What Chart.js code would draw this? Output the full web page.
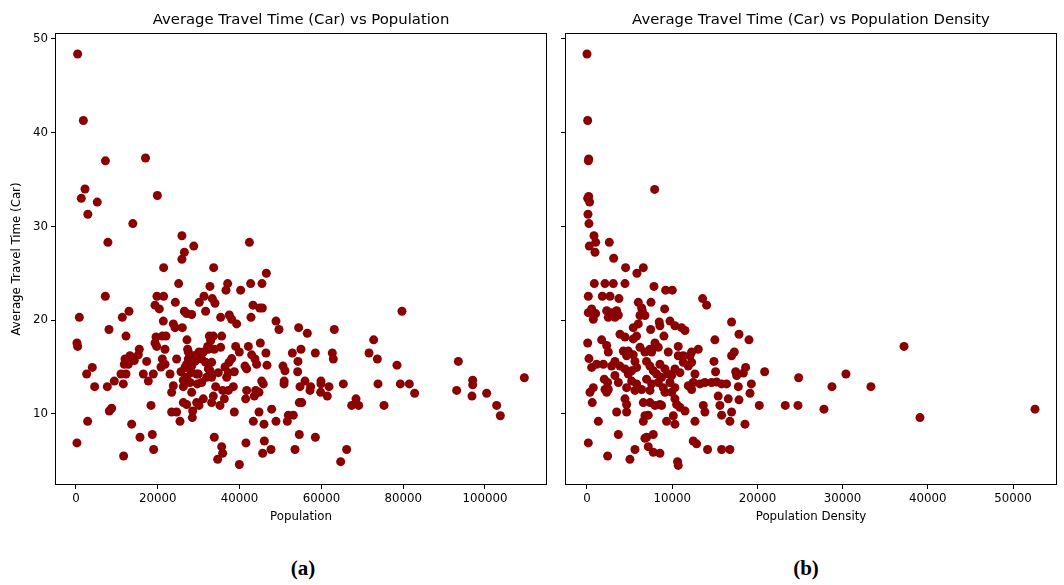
<!DOCTYPE html>
<html>
<head>
<meta charset="utf-8">
<script src="https://cdn.jsdelivr.net/npm/chart.js@4.4.1/dist/chart.umd.min.js"></script>
<style>
  body { margin: 0; background: #fff; width: 1064px; height: 585px; position: relative; overflow: hidden; }
  #popChart { position: absolute; left: 0; top: 0; }
  #densChart { position: absolute; left: 547px; top: 0; }
  .cap { position: absolute; top: 556px; line-height: 26px; font: bold 21px "Liberation Serif", serif; color: #000; transform: translateX(-50%); }
</style>
</head>
<body>
<canvas id="popChart" width="555" height="530"></canvas>
<canvas id="densChart" width="517" height="530"></canvas>
<div class="cap" style="left:303px">(a)</div>
<div class="cap" style="left:806px">(b)</div>

<script>
// =========================
// DATA
// =========================
const popX = [
  400, 1800, 7200, 17000, 2200, 1300, 5200, 2900, 19900, 13900, 7800, 25900, 42400, 28800, 26500, 25900,
  21430, 33660, 25100, 32760, 37080, 36670, 42700, 45480, 46540, 40260, 7170, 19800, 21430, 19320, 20370,
  24290, 31300, 30150, 33330, 33980, 43280, 44910, 45560, 31700, 26490, 27060, 28280, 12960, 11330, 820,
  35370, 37490, 38060, 39280, 42790, 48900, 49630, 54440, 21350, 23800, 24210, 26000, 8070, 12230, 240,
  410, 19560, 21110, 22010, 19320, 19730, 27140, 32600, 33580, 35620, 32920, 32190, 15480, 15240, 21760,
  27300, 30070, 31130, 29500, 32360, 33820, 35370, 39040, 39940, 42140, 45070, 46450, 52900, 55010,
  11980, 13200, 14260, 12800, 11820, 17280, 21110, 21760, 20780, 24610, 27470, 27060, 28280, 29670, 29100,
  31700, 33170, 36430, 37410, 38060, 41320, 41730, 42950, 43770, 44170, 46700, 50610, 51100, 54200, 54280,
  3990, 2610, 4570, 7660, 9370, 11000, 12230, 11570, 16460, 17690, 18900, 22990, 25670, 26240, 28120,
  29500, 27870, 23800, 23390, 26240, 28280, 29670, 31950, 32760, 34150, 34800, 36840, 37250, 38710, 35860,
  37250, 38470, 41730, 41480, 43930, 44740, 45400, 45800, 43600, 50900, 50860, 54770, 54600, 55200,
  8150, 8720, 18340, 26240, 27060, 29500, 30070, 31130, 33170, 33580, 35210, 36270, 23390, 24610, 28530,
  28440, 25430, 38710, 44740, 47840, 43360, 45970, 48900, 51670, 51920, 53140, 54600, 2850, 13610, 240,
  15650, 18660, 11650, 18990, 33820, 35620, 35860, 34640, 39940, 41560, 46050, 45640, 47680, 53550,
  27470, 28690, 30730, 27870, 29910, 32360, 33170, 30730, 27060, 26650,
  79700, 56560, 63160, 72780, 58520, 62670, 62920, 71640, 73680, 78480, 93480, 109620, 55990, 57380, 57210,
  59900, 59900, 61860, 59820, 61450, 65360, 73840, 79300, 81500, 82800, 96990, 96990, 93070, 96820, 100410,
  102850, 103750, 68460, 67400, 69110, 75310, 58520, 66180, 64710
];
const popTime = [
  48.4, 41.3, 37.0, 37.3, 34.0, 33.0, 32.6, 31.3, 33.3, 30.3, 28.3, 29.0, 28.3, 27.9, 27.25, 26.5,
  25.6, 25.6, 23.9, 23.6, 23.9, 23.2, 23.9, 23.9, 25.0, 23.2, 22.55, 22.55, 22.55, 21.6, 21.2,
  21.9, 22.55, 21.9, 22.3, 21.8, 21.6, 21.3, 21.3, 20.95, 20.95, 20.7, 20.6, 20.95, 20.3, 20.3,
  20.3, 20.55, 20.1, 19.6, 20.3, 19.9, 19.0, 19.2, 19.9, 19.6, 19.2, 19.2, 19.0, 18.3, 17.56,
  17.2, 18.2, 18.3, 18.3, 17.56, 17.2, 17.9, 18.3, 18.3, 18.3, 17.8, 17.2, 16.9, 16.3, 16.9,
  16.9, 16.6, 16.6, 16.2, 16.9, 16.9, 17.1, 17.2, 16.6, 17.2, 17.56, 16.5, 16.5, 16.9,
  15.85, 16.2, 15.7, 15.3, 15.3, 15.6, 15.85, 15.3, 15.0, 15.85, 15.85, 15.3, 15.1, 16.3, 15.6,
  15.5, 15.5, 15.0, 15.5, 15.9, 15.1, 14.8, 16.3, 15.85, 15.3, 15.2, 15.1, 14.6, 14.5, 15.6,
  14.96, 14.25, 12.9, 12.9, 13.5, 14.25, 14.25, 13.2, 14.25, 13.5, 14.25, 14.25, 14.5, 13.6, 14.4,
  14.25, 13.35, 13.0, 12.3, 12.9, 12.3, 13.2, 13.9, 14.6, 12.9, 14.4, 13.9, 14.4, 14.5, 12.5,
  12.5, 12.9, 12.5, 11.6, 12.5, 12.3, 13.5, 13.2, 11.9, 13.5, 13.2, 12.9, 11.2, 11.2,
  10.3, 10.6, 10.9, 11.2, 11.0, 11.2, 10.9, 11.6, 11.2, 11.9, 10.9, 11.6, 10.2, 10.2, 10.3,
  9.6, 9.2, 10.2, 10.2, 10.5, 9.2, 8.9, 9.2, 9.2, 9.86, 9.86, 7.8, 9.2, 8.9, 6.9,
  7.5, 7.8, 5.5, 6.2, 7.5, 6.5, 5.8, 5.15, 4.6, 6.9, 7.1, 5.8, 6.2, 6.2,
  16.6, 16.2, 15.85, 14.8, 14.25, 14.8, 13.9, 13.35, 13.9, 14.96,
  20.95, 18.6, 19.0, 17.9, 16.5, 16.5, 15.85, 16.5, 15.85, 15.2, 15.6, 13.85, 13.5, 12.9, 12.5,
  13.5, 13.2, 12.9, 12.3, 11.9, 13.2, 13.2, 13.2, 13.2, 12.2, 13.6, 13.1, 12.5, 11.9, 12.2,
  10.9, 9.8, 11.6, 10.9, 10.9, 10.9, 7.5, 6.2, 4.9
];

const densX = [
  0, 80, 200, 160, 7940, 200, 80, 310, 115, 230, 820, 1020, 270, 2620, 940, 3130,
  4530, 6610, 5860, 860, 2110, 3090, 4460, 7860, 9230, 10010, 155, 1800, 2700, 3750, 13570, 14040,
  6020, 6410, 7510, 9110, 550, 155, 1020, 740, 2310, 2890, 3480, 2500, 3280, 3680, 6220, 6800, 6490,
  6020, 5430, 8480, 8560, 9740, 10320, 11100, 11500, 7470, 16970, 3870, 4460, 5820, 5430, 9030,
  80, 1720, 2310, 2500, 7980, 8370, 7390, 10710, 15010, 13060, 4260, 4850, 5430, 4650, 6220, 6800,
  7590, 9540, 10710, 11300, 12080, 12280, 230, 550, 1130, 1920, 3280, 2890, 3870, 4460, 4850, 5630,
  5820, 5240, 6990, 7390, 7780, 8170, 8560, 9150, 9540, 9930, 8760, 10320, 10910, 11300, 11890, 12280,
  14900, 15090, 16970, 2030, 2420, 2500, 3680, 3280, 5240, 5820, 4650, 6410, 5630, 6990, 7590, 7390,
  8370, 8950, 9150, 9740, 10320, 9930, 11890, 12470, 12280, 12670, 13260, 13840, 14620, 15210, 15800,
  16380, 350, 740, 620, 2110, 2310, 4460, 4650, 3480, 4650, 6610, 7390, 7980, 8560, 8760, 6800, 7190,
  6610, 10320, 10520, 10910, 11500, 10130, 10320, 9340, 1330, 12670, 13650, 13840, 15400, 15600, 15800,
  16580, 16970, 16770, 3680, 7000, 7780, 6800, 155, 12470, 12860, 2420, 5040, 5630, 7190, 7780, 8560,
  10630, 10710, 14150, 15800, 16770,
  17840, 19010, 17290, 17450, 17570, 18350, 18620, 20850, 24840, 30390, 17760, 19290, 19130, 28750,
  33320, 17840, 20220, 23270, 24760, 27810, 18540, 37210, 39080, 52580
];
const densTime = [
  48.4, 41.3, 37.2, 37.0, 33.95, 33.2, 33.0, 32.6, 31.3, 30.3, 29.0, 28.3, 27.9, 28.3, 27.25, 26.6,
  25.6, 25.6, 25.0, 23.9, 23.9, 23.9, 23.9, 23.6, 23.2, 23.2, 22.55, 22.55, 22.55, 22.3, 22.3, 21.6,
  21.9, 21.3, 21.9, 21.2, 21.2, 20.8, 20.7, 20.1, 21.0, 20.8, 21.0, 20.3, 20.3, 20.55, 20.5, 20.5, 21.0,
  19.6, 19.2, 19.8, 19.4, 19.9, 19.4, 19.2, 18.9, 19.0, 19.8, 18.5, 18.2, 18.3, 18.0, 18.3,
  17.56, 17.9, 17.3, 16.6, 17.56, 17.1, 16.9, 17.2, 17.9, 16.9, 16.7, 16.7, 16.3, 16.2, 17.1, 16.6,
  16.6, 16.6, 16.2, 16.2, 16.2, 16.6, 15.9, 14.96, 15.3, 15.3, 15.6, 15.1, 15.1, 14.8, 14.25, 15.6,
  14.96, 14.6, 15.6, 15.1, 14.6, 14.25, 15.3, 14.8, 14.25, 14.1, 13.9, 14.8, 14.4, 15.5, 15.1, 15.5,
  15.6, 14.5, 16.2, 13.7, 13.35, 12.6, 13.35, 14.1, 13.5, 13.2, 12.8, 12.6, 12.5, 13.7, 13.2, 12.5,
  13.35, 12.8, 12.3, 13.35, 12.8, 12.3, 13.0, 13.35, 12.6, 14.25, 13.2, 13.35, 13.35, 13.4, 13.2,
  13.2, 12.3, 12.8, 11.2, 12.6, 12.3, 11.6, 11.0, 10.2, 10.2, 11.2, 11.2, 10.9, 11.0, 10.9, 9.8, 9.86,
  9.2, 11.6, 11.0, 10.7, 10.3, 9.8, 8.9, 9.2, 9.2, 9.2, 10.9, 10.2, 11.9, 10.9, 9.86,
  11.6, 10.2, 9.2, 7.8, 7.5, 7.8, 7.4, 6.9, 7.1, 6.8, 5.5, 5.15, 6.2, 6.5, 5.9, 5.8,
  4.9, 4.5, 6.2, 6.2, 6.2,
  18.5, 17.9, 16.6, 14.5, 14.1, 14.35, 14.96, 14.5, 13.85, 14.25, 12.9, 13.2, 12.2, 12.9,
  12.9, 11.5, 10.9, 10.9, 10.9, 10.5, 8.9, 17.2, 9.6, 10.5
];

const yTicks = [10, 20, 30, 40, 50];
const popTicks = [0, 20000, 40000, 60000, 80000, 100000];
const densTicks = [0, 10000, 20000, 30000, 40000, 50000];

// =========================
// HELPERS
// =========================
const FONT = "'DejaVu Sans', sans-serif";

// matplotlib style box around the plot area + title centred over it
const framePlugin = {
  id: "frame",
  afterDatasetsDraw(chart, args, opts) {
    const a = chart.chartArea;
    const ctx = chart.ctx;
    ctx.save();
    ctx.strokeStyle = "#000";
    ctx.lineWidth = 1;
    ctx.strokeRect(a.left + 0.5, a.top + 0.5, a.right - a.left - 1, a.bottom - a.top - 1);

    ctx.fillStyle = "#000";
    ctx.font = "14.85px " + FONT;
    ctx.textAlign = "center";
    ctx.textBaseline = "middle";
    ctx.fillText(opts.text, (a.left + a.right) / 2, 20);
    ctx.restore();
  }
};

function makeChart(id, xs, ys, opts) {
  const ctx = document.getElementById(id).getContext("2d");
  const points = xs.map((x, i) => ({ x: x, y: ys[i] }));

  return new Chart(ctx, {
    type: "scatter",
    data: {
      datasets: [{
        data: points,
        backgroundColor: "#8b0000",
        borderWidth: 0,
        pointRadius: 4.5,
        pointHoverRadius: 4.5
      }]
    },
    plugins: [framePlugin],
    options: {
      responsive: false,
      animation: false,
      devicePixelRatio: 1,
      layout: { padding: { left: 0, right: opts.rightPad, top: 33, bottom: 0 } },
      plugins: {
        legend: { display: false },
        tooltip: { enabled: false },
        title: { display: false },
        frame: { text: opts.title }
      },
      scales: {
        x: {
          type: "linear",
          min: opts.xMin,
          max: opts.xMax,
          afterBuildTicks: s => { s.ticks = opts.xTicks.map(v => ({ value: v })); },
          afterFit: s => { s.height = 45; },
          border: { display: false },
          grid: { display: true, drawOnChartArea: false, drawTicks: true, tickLength: 4, color: "#000" },
          ticks: {
            color: "#000", padding: 3, maxRotation: 0, autoSkip: false,
            font: { family: FONT, size: 11.8 },
            callback: v => String(v)
          },
          title: {
            display: true, text: opts.xLabel, color: "#000",
            font: { family: FONT, size: 11.8 },
            padding: { top: 0, bottom: 6 }
          }
        },
        y: {
          type: "linear",
          min: 2.41,
          max: 50.64,
          afterBuildTicks: s => { s.ticks = yTicks.map(v => ({ value: v })); },
          afterFit: s => { s.width = opts.yWidth; },
          border: { display: false },
          grid: { display: true, drawOnChartArea: false, drawTicks: true, tickLength: 4, color: "#000" },
          ticks: {
            display: opts.yLabels, color: "#000", padding: 3,
            font: { family: FONT, size: 11.8 },
            callback: v => String(v)
          },
          title: {
            display: opts.yLabels, text: "Average Travel Time (Car)", color: "#000",
            font: { family: FONT, size: 11.8 },
            padding: { top: 10, bottom: 0 }
          }
        }
      }
    }
  });
}

makeChart("popChart", popX, popTime, {
  title: "Average Travel Time (Car) vs Population",
  xLabel: "Population",
  xMin: -5130, xMax: 115160, xTicks: popTicks,
  yWidth: 55, yLabels: true, rightPad: 8
});

makeChart("densChart", densX, densTime, {
  title: "Average Travel Time (Car) vs Population Density",
  xLabel: "Population Density",
  xMin: -2580, xMax: 55160, xTicks: densTicks,
  yWidth: 18, yLabels: false, rightPad: 7
});
</script>
</body>
</html>
